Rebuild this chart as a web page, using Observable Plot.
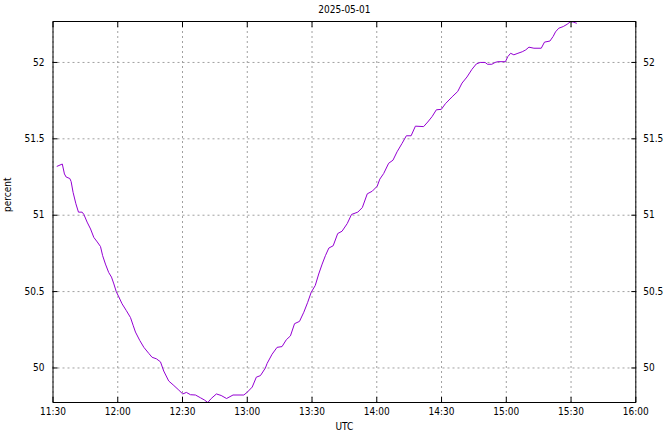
<!DOCTYPE html>
<html>
<head>
<meta charset="utf-8">
<script src="https://cdn.jsdelivr.net/npm/d3@7"></script>
<script src="https://cdn.jsdelivr.net/npm/@observablehq/plot@0.6"></script>
<style>
  html, body { margin: 0; padding: 0; background: #fff; }
  #chart svg { display: block; }
</style>
</head>
<body>
<div id="chart"></div>
<script>
const day = "2025-05-01";
const titleText = "2025-05-01";
const xLabel = "UTC";
const yLabel = "percent";
const xTickLabels = ["11:30","12:00","12:30","13:00","13:30","14:00","14:30","15:00","15:30","16:00"];
const yTicks = [50, 50.5, 51, 51.5, 52];

const times = [
  "11:31:54","11:34:18","11:35:18","11:36:06","11:37:48","11:38:24","11:39:18","11:40:36","11:41:48","11:43:30",
  "11:44:18","11:45:48","11:47:24","11:48:54","11:50:30","11:52:00","11:53:00","11:54:18","11:55:48","11:57:06",
  "11:58:12","11:59:18","12:00:30","12:02:00","12:04:00","12:05:54","12:07:06","12:08:12","12:10:12","12:12:06",
  "12:14:24","12:15:54","12:17:54","12:19:48","12:21:18","12:23:36","12:26:00","12:28:18","12:30:06","12:31:48",
  "12:33:42","12:36:00","12:38:18","12:40:12","12:41:42","12:43:18","12:45:42","12:47:54","12:50:24","12:53:24",
  "12:58:24","12:59:54","13:02:18","13:04:12","13:06:06","13:08:24","13:09:12","13:11:30","13:13:48","13:16:06",
  "13:18:06","13:20:00","13:21:54","13:24:12","13:26:12","13:28:00","13:29:36","13:31:30","13:33:06","13:34:42",
  "13:36:12","13:37:48","13:39:48","13:41:54","13:43:54","13:46:18","13:48:18","13:51:12","13:53:18","13:55:36",
  "13:57:54","14:00:12","14:01:24","14:03:12","14:05:30","14:07:30","14:09:24","14:11:42","14:13:42","14:15:54",
  "14:17:54","14:21:42","14:23:36","14:25:36","14:27:36","14:29:54","14:31:48","14:34:54","14:37:30","14:39:30",
  "14:41:48","14:44:06","14:46:06","14:47:54","14:50:12","14:51:18","14:53:18","14:54:48","14:56:06","14:59:36",
  "15:00:42","15:02:00","15:03:30","15:05:24","15:07:24","15:09:00","15:10:30","15:12:48","15:16:12","15:17:42",
  "15:20:12","15:21:42","15:22:48","15:24:18","15:26:24","15:28:12","15:29:48","15:31:00","15:32:30"
];
const values = [
  51.32,51.335,51.27,51.25,51.24,51.22,51.15,51.075,51.02,51.02,
  51.005,50.955,50.91,50.855,50.825,50.795,50.735,50.68,50.625,50.595,
  50.55,50.50,50.465,50.42,50.375,50.33,50.28,50.235,50.18,50.135,
  50.095,50.07,50.06,50.04,49.98,49.915,49.885,49.855,49.83,49.84,
  49.825,49.823,49.805,49.79,49.774,49.80,49.83,49.82,49.80,49.823,
  49.823,49.84,49.875,49.94,49.95,50.0,50.03,50.09,50.135,50.14,
  50.185,50.21,50.29,50.305,50.365,50.43,50.495,50.54,50.615,50.68,
  50.735,50.785,50.80,50.88,50.895,50.945,51.005,51.02,51.05,51.14,
  51.157,51.19,51.236,51.273,51.34,51.36,51.415,51.47,51.52,51.52,
  51.583,51.58,51.61,51.645,51.69,51.693,51.73,51.775,51.81,51.865,
  51.905,51.955,51.99,52.0,52.0,51.988,51.988,52.0,52.005,52.005,
  52.038,52.06,52.05,52.06,52.07,52.082,52.1,52.093,52.093,52.133,
  52.14,52.17,52.2,52.224,52.235,52.25,52.268,52.264,52.257
];

const toDate = (t) => new Date(`${day}T${t.length === 5 ? t + ":00" : t}Z`);
const data = times.map((t, i) => ({time: toDate(t), value: values[i]}));
const xTicks = xTickLabels.map(toDate);
const fmt = d3.utcFormat("%H:%M");
const yFmt = (d) => String(d);

const gridStyle = {stroke: "#a0a0a0", strokeOpacity: 1, strokeDasharray: "2,3", strokeWidth: 1};

const chart = Plot.plot({
  width: 664,
  height: 432,
  marginLeft: 52.5,
  marginRight: 28.7,
  marginTop: 21,
  marginBottom: 30,
  style: {fontFamily: "'DejaVu Sans Condensed', 'DejaVu Sans', sans-serif", fontSize: "10px", color: "#000", background: "#fff"},
  x: {type: "utc", domain: [xTicks[0], xTicks[xTicks.length - 1]]},
  y: {domain: d3.extent(values)},
  marks: [
    Plot.gridX(xTicks, gridStyle),
    Plot.gridY(yTicks, gridStyle),
    Plot.line(data, {x: "time", y: "value", stroke: "#9400d3", strokeWidth: 1}),
    Plot.frame({stroke: "#000", strokeWidth: 1}),
    Plot.axisX(xTicks, {anchor: "bottom", tickSize: -5, tickPadding: 10, tickFormat: fmt, label: null}),
    Plot.axisX(xTicks, {anchor: "top", tickSize: -5, tickFormat: () => "", label: null}),
    Plot.axisY(yTicks, {anchor: "left", tickSize: -5, tickPadding: 13.5, tickFormat: yFmt, label: null}),
    Plot.axisY(yTicks, {anchor: "right", tickSize: -5, tickPadding: 12.5, tickFormat: yFmt, label: null}),
    Plot.text([titleText], {frameAnchor: "top", dy: -16, dx: 0, text: d => d, fontSize: 10}),
    Plot.text([xLabel], {frameAnchor: "bottom", dy: 27, text: d => d, fontSize: 10}),
    Plot.text([yLabel], {frameAnchor: "left", dx: -45.5, rotate: -90, text: d => d, fontSize: 10})
  ]
});
document.getElementById("chart").appendChild(chart);
</script>
</body>
</html>
